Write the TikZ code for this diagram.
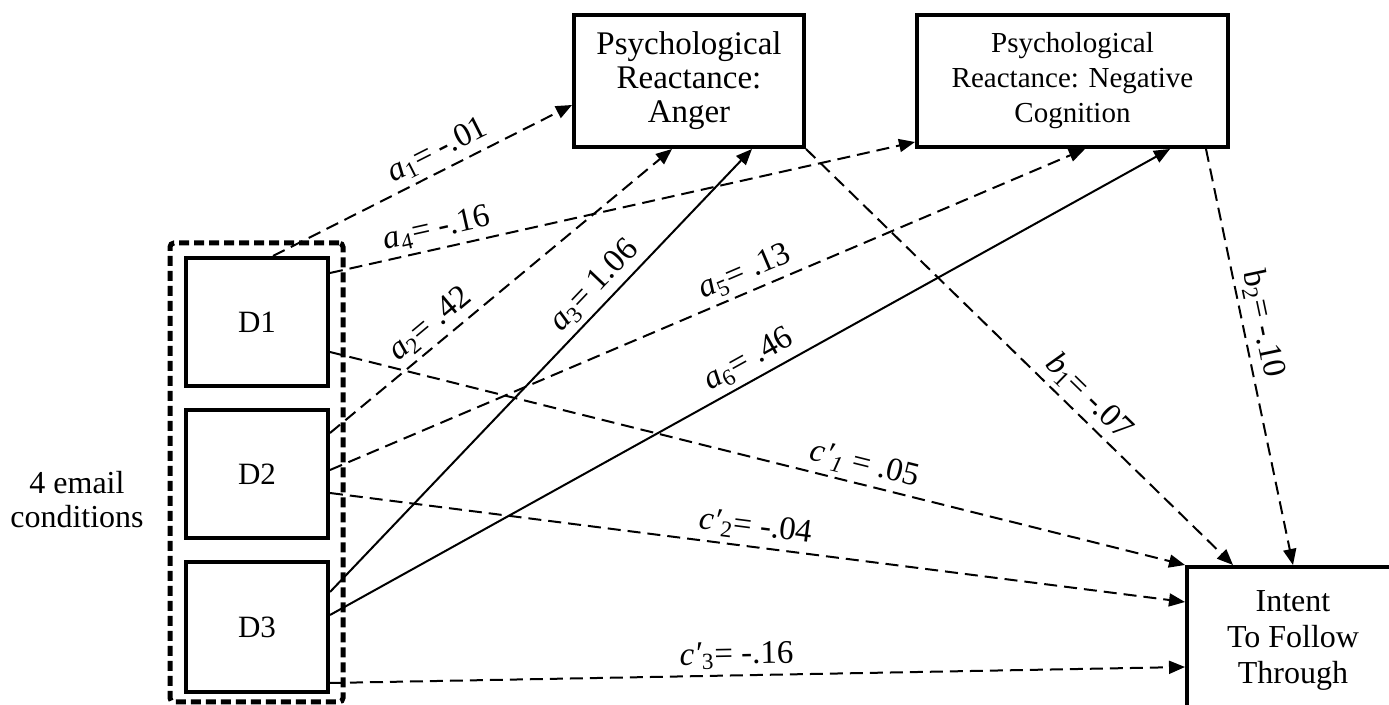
\documentclass[tikz,border=0pt]{standalone}
\usepackage{fontspec}
\setmainfont{Liberation Serif}
\usetikzlibrary{arrows.meta}
\begin{document}
\begin{tikzpicture}[x=0.5pt,y=-0.5pt,
  box/.style={draw,line width=2pt,align=center,inner sep=0pt},
  conn/.style={line width=1pt,-{Triangle[length=8pt,width=6.5pt]}},
  dconn/.style={conn,dash pattern=on 6.5pt off 3.5pt},
  lab/.style={sloped,above,inner sep=2.5pt,font=\fontsize{16.5}{18}\selectfont}]
\clip (0,0) rectangle (1389,705);
% group box
\node[draw,line width=2.5pt,dash pattern=on 5pt off 2.5pt,rounded corners=2pt,
      minimum width=86.5pt,minimum height=229.5pt] (grp) at (256.5,472.5) {};
\node[box,minimum width=71pt,minimum height=64pt,font=\fontsize{15.5}{18}\selectfont] (D1) at (257,322) {D1};
\node[box,minimum width=71pt,minimum height=64pt,font=\fontsize{15.5}{18}\selectfont] (D2) at (257,474) {D2};
\node[box,minimum width=71pt,minimum height=65pt,font=\fontsize{15.5}{18}\selectfont] (D3) at (257,627) {D3};
\node[align=center,font=\fontsize{16}{17}\selectfont] (cond) at (77,500) {4 email\\conditions};
% mediators and outcome
\node[box,minimum width=115pt,minimum height=66pt,font=\fontsize{16.5}{17}\selectfont] (anger) at (689,81)
  {Psychological\\Reactance:\\Anger};
\node[box,minimum width=155.5pt,minimum height=66pt,font=\fontsize{14.5}{17.5}\selectfont] (negcog) at (1072.5,81)
  {\raisebox{-4pt}{\parbox{150pt}{\centering Psychological\\Reactance: Negative\\Cognition}}};
\node[box,minimum width=106pt,minimum height=73pt,font=\fontsize{16}{18}\selectfont] (intent) at (1293,640)
  {Intent\\To Follow\\Through};
% a paths
\draw[dconn] (D1.north -| 273,0) -- node[lab,pos=.58]{\textit{a}\textsubscript{1}= -.01} (anger.west |- 0,105);
\draw[dconn] (D1.east |- 0,273) -- node[lab,pos=.19]{\textit{a}\textsubscript{4}= -.16} (negcog.west |- 0,142);
\draw[dconn] (D2.east |- 0,433) -- node[lab,pos=.33]{\textit{a}\textsubscript{2}= .42} (anger.south -| 672,0);
\draw[conn] (D3.east |- 0,592) -- node[lab,pos=.66]{\textit{a}\textsubscript{3}= 1.06} (anger.south -| 752,0);
\draw[dconn] (D2.east |- 0,470) -- node[lab,pos=.56]{\textit{a}\textsubscript{5}= .13} (negcog.south -| 1085,0);
\draw[conn] (D3.east |- 0,615) -- node[lab,pos=.51]{\textit{a}\textsubscript{6}= .46} (negcog.south -| 1170,0);
% b paths
\draw[dconn] (anger.south east) -- node[lab,pos=.63]{\textit{b}\textsubscript{1}= -.07} (intent.north -| 1233,0);
\draw[dconn] (negcog.south -| 1206,0) -- node[lab,pos=.43]{b\textsubscript{2}= -.10} (intent.north -| 1293,0);
% c' paths
\draw[dconn] (D1.east |- 0,352) -- node[lab,pos=.62]{\textit{c′}\textsubscript{\textit{1}} = .05} (intent.north west);
\draw[dconn] (D2.east |- 0,493) -- node[lab,pos=.495]{\textit{c′}\textsubscript{2}= -.04} (intent.west |- 0,602);
\draw[dconn] (D3.east |- 0,683) -- node[lab,pos=.476]{\textit{c′}\textsubscript{3}= -.16} (intent.west |- 0,667);
\end{tikzpicture}
\end{document}
